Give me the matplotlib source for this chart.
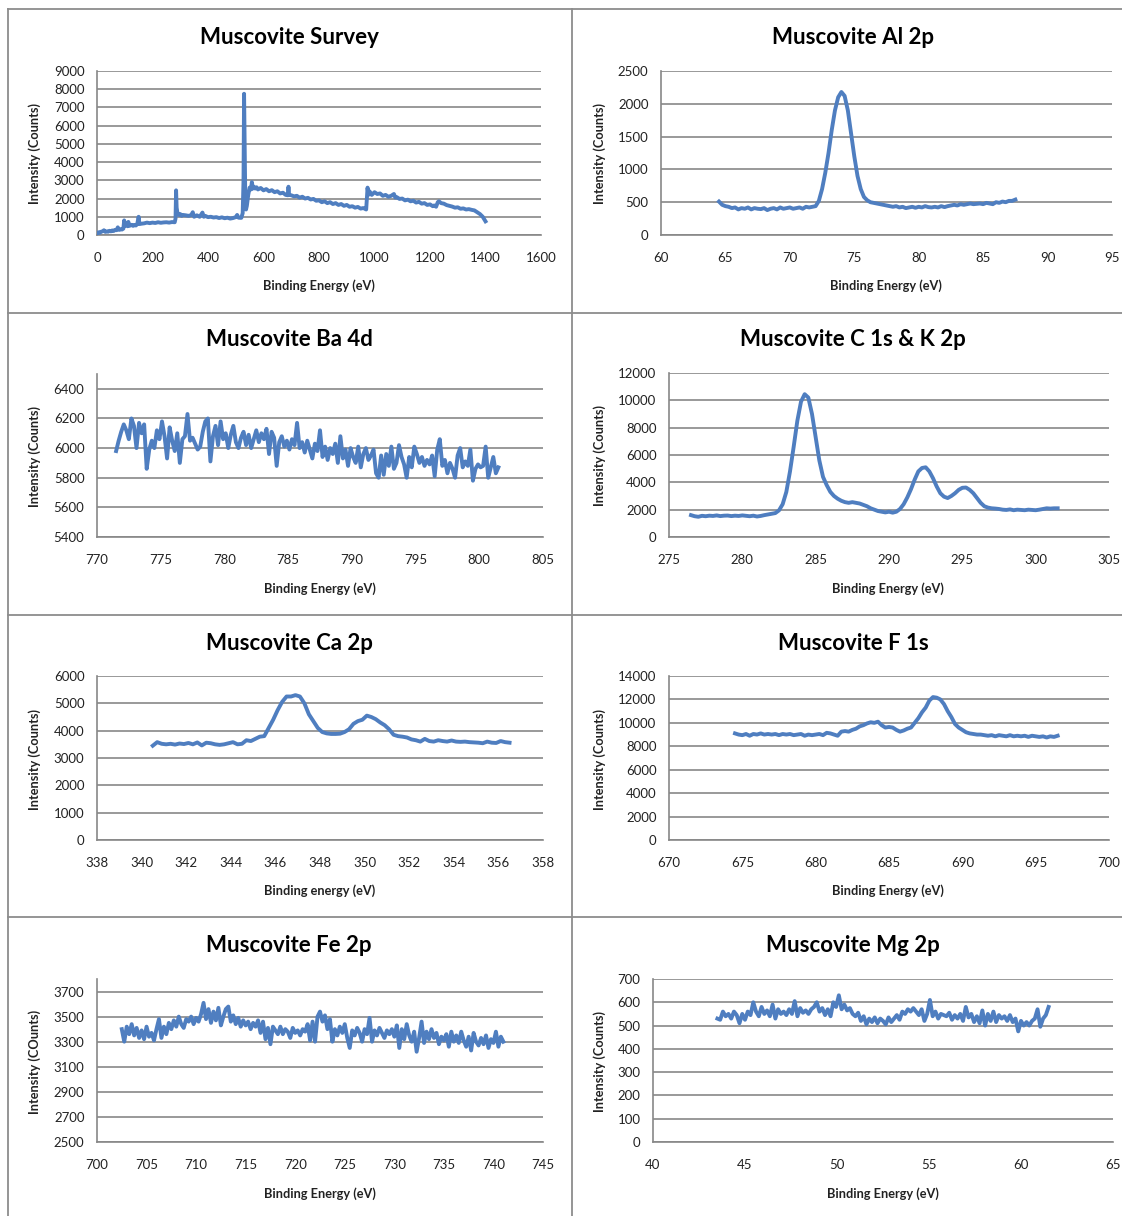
import numpy as np
import matplotlib
matplotlib.use("Agg")
import matplotlib.pyplot as plt
from matplotlib.lines import Line2D

plt.rcParams['font.family'] = ['Lato', 'DejaVu Sans']

# ---------------- data ----------------
survey_x = [0, 5, 10, 15, 20, 25, 30, 35, 40, 45, 50, 55, 60, 65, 70, 75, 78, 80, 85, 90,
            95, 98, 100, 105, 110, 113, 116, 120, 125, 130, 135, 140, 145, 150, 153, 160,
            170, 180, 190, 200, 210, 220, 230, 240, 250, 260, 270, 280, 283, 285, 287, 290,
            295, 300, 305, 310, 320, 330, 340, 345, 350, 360, 370, 380, 385, 390, 400, 410,
            420, 430, 440, 450, 460, 470, 480, 490, 500, 505, 510, 520, 525, 528, 530, 532,
            534, 537, 540, 545, 550, 555, 558, 562,
            565, 570, 575, 580, 590, 600, 610, 620, 630, 640, 650, 660, 670, 680, 688, 690,
            692, 700, 710, 720, 730, 740, 750, 760, 770, 780, 790, 800, 810, 820, 830, 840,
            850, 860, 870, 880, 890, 900, 910, 920, 930, 940, 950, 960, 970, 975, 978, 982,
            990, 1000, 1010, 1020, 1030, 1040, 1050, 1060, 1070, 1075, 1080, 1090, 1100, 1110,
            1120, 1130, 1140, 1150, 1160, 1170, 1180, 1190, 1200, 1210, 1215, 1222, 1228,
            1232, 1240, 1250, 1260, 1270, 1280, 1290, 1300, 1310, 1320, 1330, 1340, 1350,
            1360, 1370, 1380, 1390, 1400]
survey_y = [80, 150, 120, 180, 200, 260, 170, 200, 180, 230, 200, 250, 220, 280, 260, 420,
            300, 280, 320, 300, 350, 800, 500, 650, 480, 720, 500, 520, 560, 500, 550, 520,
            600, 1000, 600, 620, 640, 680, 650, 680, 660, 700, 670, 690, 700, 680, 710, 700,
            900, 2450, 1500, 1200, 1100, 1150, 1050, 1100, 1080, 1050, 1100, 1250, 1000, 1080,
            1000, 1230, 1000, 1050, 980, 1000, 960, 980, 930, 970, 920, 950, 900, 930, 980,
            1100, 950, 940, 1200, 3000, 7750, 5000, 2500, 1400, 1600, 2200, 2600, 2500, 2900,
            2550,
            2650, 2550, 2620, 2500, 2580, 2450, 2520, 2400, 2460, 2350, 2400, 2280, 2320, 2200,
            2180, 2650,
            2200, 2180, 2120, 2150, 2050, 2100, 2000, 2040, 1950, 1980, 1880, 1900, 1800, 1850,
            1750, 1800,
            1700, 1750, 1650, 1700, 1600, 1650, 1550, 1580, 1500, 1540, 1450, 1480, 1400, 2600,
            2200, 2400,
            2200, 2350, 2250, 2280, 2150, 2200, 2100, 2150, 2250, 2050, 2080, 1980, 2000, 1900,
            1940, 1850, 1880, 1780, 1820, 1720, 1750, 1650, 1680, 1580, 1620, 1550, 1800,
            1850, 1750, 1720, 1640, 1600, 1560, 1500, 1520, 1440, 1460, 1400, 1420, 1380,
            1350, 1250, 1150, 1000, 750]

al_start, al_step = 64.5, 0.25
al_y = [510, 460, 440, 430, 410, 420, 390, 410, 400, 420, 390, 410, 400, 395, 410, 380,
        400, 410, 390, 420, 400, 410, 420, 400, 410, 420, 400, 430, 420, 430, 440, 520,
        700, 950, 1250, 1600, 1900, 2100, 2180, 2120, 1900, 1550, 1200, 900, 700, 580,
        530, 500, 490, 480, 470, 460, 450, 440, 430, 440, 420, 430, 410, 420, 430, 415,
        430, 420, 440, 425, 420, 430, 420, 440, 425, 440, 450, 460, 450, 470, 460, 470,
        480, 470, 475, 480, 470, 490, 480, 470, 500, 490, 510, 500, 520, 520, 540]

ba_start, ba_step = 771.5, 0.2
ba_y = [5980, 6050, 6110, 6160, 6120, 6060, 6200, 6150, 6000, 6170,
        6100, 6160, 5860, 5990, 6050, 6000, 6120, 6060, 6180, 6080,
        5930, 6140, 6050, 5980, 6100, 5900, 6060, 6080, 6230, 6050,
        6070, 6030, 5990, 6010, 6110, 6180, 6200, 5910, 6080, 6150,
        6020, 6180, 6060, 6100, 6000, 6090, 6150, 6040, 6000, 6070,
        6110, 6020, 6090, 6000, 6060, 6120, 6040, 6100, 6060, 6130,
        5960, 6110, 6070, 5880, 6040, 6080, 6010, 6050, 5990, 6060,
        6020, 6170, 6000, 6040, 5970, 6050, 5990, 5930, 6030, 5980,
        6120, 5940, 6010, 5920, 6000, 5960, 6030, 5900, 6080, 5930,
        5990, 5880, 6000, 5940, 5900, 6010, 5870, 5960, 6000, 5920,
        5950, 5990, 5830, 5800, 5950, 5820, 5960, 5880, 6010, 5860,
        5900, 6020, 5940, 5890, 5800, 5940, 5870, 6010, 5960, 5900,
        5940, 5880, 5920, 5890, 5950, 5810, 5990, 6060, 5880, 5920,
        5830, 5900, 5860, 5800, 5950, 6000, 5870, 5910, 5880, 5990,
        5780, 5860, 5890, 5870, 5880, 6010, 5800, 5870, 5940, 5830, 5870]

c_start, c_step = 276.5, 0.25
c_y = [1600, 1520, 1480, 1550, 1520, 1560, 1540, 1580, 1530, 1560, 1570, 1530, 1560,
       1540, 1580, 1550, 1520, 1560, 1500, 1540, 1600, 1650, 1700, 1750, 1950, 2400,
       3300, 4800, 6600, 8500, 9900, 10450, 10200, 9000, 7300, 5600, 4400, 3800, 3300,
       3000, 2800, 2650, 2550, 2500, 2550, 2500, 2450, 2350, 2250, 2100, 2000, 1900,
       1850, 1800, 1850, 1780, 1850, 2050, 2400, 2900, 3500, 4200, 4800, 5050, 5100,
       4800, 4300, 3700, 3200, 2950, 2850, 3000, 3200, 3450, 3600, 3620, 3450, 3200,
       2850, 2500, 2250, 2150, 2100, 2080, 2050, 2000, 1980, 2020, 1960, 2000, 1980,
       1960, 2000, 1980, 1960, 2000, 2050, 2100, 2080, 2100, 2100]

ca_start, ca_step = 340.5, 0.2
ca_y = [3450, 3580, 3520, 3500, 3520, 3490, 3530, 3510, 3550, 3500, 3570, 3460, 3560,
        3540, 3500, 3480, 3500, 3540, 3580, 3500, 3520, 3650, 3620, 3700, 3780, 3800,
        4100, 4400, 4750, 5050, 5250, 5250, 5300, 5250, 5000, 4600, 4350, 4100, 3950,
        3900, 3880, 3880, 3890, 3950, 4050, 4250, 4350, 4400, 4550, 4500, 4420, 4300,
        4200, 4050, 3850, 3800, 3780, 3750, 3680, 3650, 3600, 3700, 3620, 3600, 3650,
        3620, 3600, 3640, 3600, 3590, 3600, 3580, 3570, 3560, 3540, 3600, 3560, 3550,
        3620, 3580, 3560]

f_start, f_step = 674.5, 0.25
f_y = [9100, 9000, 8950, 9050, 8900, 9050, 9000, 9100, 9000, 9050, 9000, 9050, 8950,
       9050, 9000, 9050, 8950, 9000, 9050, 8900, 9000, 8950, 9000, 9050, 8950, 9150,
       9100, 9000, 8900, 9250, 9300, 9250, 9400, 9500, 9700, 9800, 9950, 10050, 10000,
       10100, 9800, 9600, 9650, 9600, 9400, 9250, 9350, 9500, 9600, 10000, 10400, 10900,
       11300, 11900, 12200, 12150, 12000, 11600, 11000, 10500, 9900, 9600, 9400, 9200,
       9100, 9050, 9000, 9000, 8950, 8900, 8950, 8850, 8950, 8900, 8850, 8950, 8850,
       8900, 8850, 8900, 8800, 8900, 8850, 8800, 8850, 8750, 8850, 8800, 8900]

fe_start, fe_step = 702.5, 0.25
fe_y = [3400, 3300, 3420, 3360, 3440, 3350, 3410, 3330, 3390, 3320, 3420, 3340,
        3370, 3310, 3400, 3480, 3330, 3420, 3360, 3450, 3400, 3470, 3420, 3500,
        3440, 3410, 3480, 3460, 3500, 3440, 3490, 3460, 3520, 3610, 3480, 3560,
        3450, 3540, 3470, 3570, 3430, 3500, 3560, 3580, 3460, 3510, 3440, 3490,
        3420, 3470, 3430, 3460, 3400, 3450, 3420, 3470, 3370, 3460, 3320, 3410,
        3280, 3420, 3390, 3360, 3420, 3360, 3400, 3380, 3330, 3410, 3370, 3390,
        3350, 3400, 3380, 3440, 3310, 3460, 3300, 3500, 3540, 3460, 3510, 3400,
        3480, 3300, 3400, 3350, 3420, 3370, 3440, 3330, 3250, 3390, 3350, 3410,
        3370, 3300, 3400, 3360, 3490, 3300, 3390, 3350, 3410, 3370, 3330, 3390,
        3360, 3400, 3340, 3430, 3250, 3400, 3320, 3440, 3350, 3300, 3380, 3220,
        3330, 3460, 3290, 3380, 3320, 3400, 3330, 3370, 3280, 3340, 3310, 3360,
        3260, 3380, 3300, 3350, 3290, 3380, 3310, 3260, 3340, 3230, 3370, 3300,
        3270, 3330, 3280, 3350, 3250, 3320, 3290, 3380, 3260, 3340, 3300]

mg_start, mg_step = 43.5, 0.15
mg_y = [530, 525, 560, 540, 550, 530, 560, 545, 510, 550, 525, 560, 545, 600, 560, 540,
        580, 550, 565, 540, 590, 530, 570, 550, 560, 545, 570, 550, 605, 540, 575, 555,
        565, 550, 570, 580, 600, 560, 575, 545, 570, 540, 600, 580, 630, 570, 590, 565,
        575, 550, 540, 555, 520, 540, 505, 530, 515, 535, 510, 530, 520, 505, 535, 515,
        530, 545, 525, 560, 550, 570, 560, 575, 560, 545, 570, 520, 550, 610, 540, 560,
        530, 550, 545, 540, 555, 525, 545, 530, 550, 520, 580, 535, 550, 515, 540, 510,
        565, 500, 550, 520, 560, 515, 545, 530, 540, 520, 545, 515, 530, 475, 520, 500,
        515, 500, 520, 530, 570, 495, 530, 545, 580]


def energies(start, step, values):
    return start + step * np.arange(len(values))


panels = [
    dict(title="Muscovite Survey", x=survey_x, y=survey_y, xlim=(0, 1600), xticks=np.arange(0, 1601, 200),
         ylim=(0, 9000), yticks=np.arange(0, 9001, 1000), ylabel="Intensity (Counts)",
         xlabel="Binding Energy (eV)", box=(97, 541, 71, 235), tx=289, ty=37, ylx=35, xlx=319, xly=286),
    dict(title="Muscovite Al 2p", x=energies(al_start, al_step, al_y), y=al_y, xlim=(60, 95),
         xticks=np.arange(60, 96, 5), ylim=(0, 2500), yticks=np.arange(0, 2501, 500),
         ylabel="Intensity (Counts)", xlabel="Binding Energy (eV)", box=(661, 1112, 71, 235),
         tx=853, ty=37, ylx=600, xlx=886, xly=286),
    dict(title="Muscovite Ba 4d", x=energies(ba_start, ba_step, ba_y), y=ba_y, xlim=(770, 805),
         xticks=np.arange(770, 806, 5), ylim=(5400, 6500), yticks=np.arange(5400, 6401, 200),
         ylabel="Intensity (Counts)", xlabel="Binding Energy (eV)", box=(97, 543, 374, 537),
         tx=289, ty=340, ylx=35, xlx=320, xly=589),
    dict(title="Muscovite C 1s & K 2p", x=energies(c_start, c_step, c_y), y=c_y, xlim=(275, 305),
         xticks=np.arange(275, 306, 5), ylim=(0, 12000), yticks=np.arange(0, 12001, 2000),
         ylabel="Intensity (Counts)", xlabel="Binding Energy (eV)", box=(669, 1109, 373, 537),
         tx=853, ty=340, ylx=600, xlx=888, xly=589),
    dict(title="Muscovite Ca 2p", x=energies(ca_start, ca_step, ca_y), y=ca_y, xlim=(338, 358),
         xticks=np.arange(338, 359, 2), ylim=(0, 6000), yticks=np.arange(0, 6001, 1000),
         ylabel="Intensity (Counts)", xlabel="Binding energy (eV)", box=(97, 543, 676, 840),
         tx=289, ty=643, ylx=35, xlx=320, xly=891),
    dict(title="Muscovite F 1s", x=energies(f_start, f_step, f_y), y=f_y, xlim=(670, 700),
         xticks=np.arange(670, 701, 5), ylim=(0, 14000), yticks=np.arange(0, 14001, 2000),
         ylabel="Intensity (Counts)", xlabel="Binding Energy (eV)", box=(669, 1109, 676, 840),
         tx=853, ty=643, ylx=600, xlx=888, xly=891),
    dict(title="Muscovite Fe 2p", x=energies(fe_start, fe_step, fe_y), y=fe_y, xlim=(700, 745),
         xticks=np.arange(700, 746, 5), ylim=(2500, 3800), yticks=np.arange(2500, 3701, 200),
         ylabel="Intensity (COunts)", xlabel="Binding Energy (eV)", box=(97, 543, 979, 1142),
         tx=289, ty=946, ylx=35, xlx=320, xly=1194),
    dict(title="Muscovite Mg 2p", x=energies(mg_start, mg_step, mg_y), y=mg_y, xlim=(40, 65),
         xticks=np.arange(40, 66, 5), ylim=(0, 700), yticks=np.arange(0, 701, 100),
         ylabel="Intensity (Counts)", xlabel="Binding Energy (eV)", box=(653, 1113, 979, 1142),
         tx=853, ty=946, ylx=600, xlx=883, xly=1194),
]

W, H = 1122, 1216
fig = plt.figure(figsize=(W / 100, H / 100), dpi=100)
fig.patch.set_facecolor("white")

LINE = "#4F7EC0"
GRID = "#878787"


def fx(px):
    return px / W


def fy(py):
    return 1 - py / H


# panel frames
frame_kw = dict(color="#8c8c8c", lw=1.3, transform=fig.transFigure)
fig.add_artist(Line2D([fx(8), fx(8)], [fy(9), fy(H)], **frame_kw))
fig.add_artist(Line2D([fx(8), fx(W)], [fy(9), fy(9)], **frame_kw))
fig.add_artist(Line2D([fx(572), fx(572)], [fy(9), fy(H)], **frame_kw))
for yy in (313, 615, 917):
    fig.add_artist(Line2D([fx(8), fx(W)], [fy(yy), fy(yy)], **frame_kw))

for p in panels:
    l, r, t, b = p["box"]
    ax = fig.add_axes([fx(l), fy(b), (r - l) / W, (b - t) / H])
    ax.plot(p["x"], p["y"], color=LINE, lw=2.8, solid_joinstyle="round", zorder=3)
    ax.set_xlim(*p["xlim"])
    ax.set_ylim(*p["ylim"])
    ax.set_xticks(p["xticks"])
    ax.set_yticks(p["yticks"])
    ax.yaxis.grid(True, color=GRID, lw=1.2)
    ax.set_axisbelow(True)
    for s in ("top", "right"):
        ax.spines[s].set_visible(False)
    for s in ("left", "bottom"):
        ax.spines[s].set_color(GRID)
        ax.spines[s].set_linewidth(1.2)
    ax.tick_params(length=0, labelsize=9.5, labelcolor="#222222")
    ax.tick_params(axis="x", pad=12)
    ax.tick_params(axis="y", pad=9)
    fig.text(fx(p["tx"]), fy(p["ty"]), p["title"], ha="center", va="center",
             fontsize=16, fontweight="bold", color="black")
    fig.text(fx(p["xlx"]), fy(p["xly"]), p["xlabel"], ha="center", va="center",
             fontsize=9.2, fontweight="bold", color="#222222")
    fig.text(fx(p["ylx"]), fy((t + b) / 2 + 1), p["ylabel"], ha="center", va="center",
             rotation=90, fontsize=9.2, fontweight="bold", color="#222222")

fig.savefig("out.png", dpi=100, facecolor="white")
